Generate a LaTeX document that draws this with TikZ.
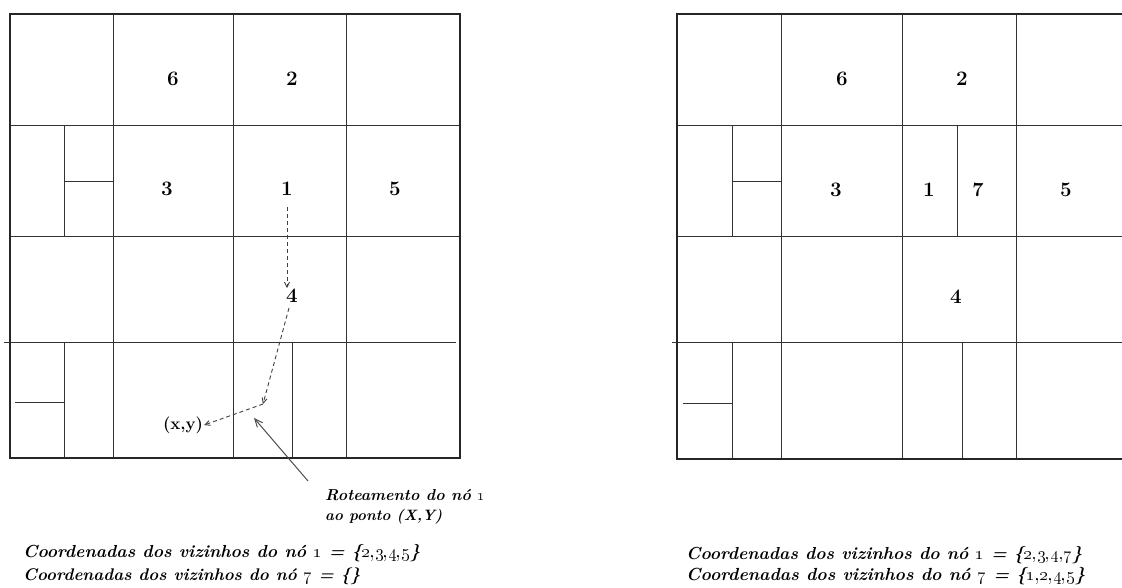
\documentclass[tikz,border=0pt]{standalone}
\usetikzlibrary{arrows.meta}
\newcommand{\nf}{\fontsize{12}{14}\selectfont\bfseries\itshape}
\newcommand{\dg}[1]{\resizebox{!}{13.5pt}{\fontsize{20}{22}\selectfont\bfseries #1}}
\tikzset{
  frame/.style={line width=2pt, draw=black!85},
  cell/.style={line width=1pt, draw=black!80},
  lbl/.style={inner sep=1pt},
  note/.style={anchor=west, inner sep=0pt},
  route/.style={dash pattern=on 4pt off 3pt, line width=0.9pt, draw=black!75, -{Straight Barb[length=5pt,width=5pt]}},
  pointer/.style={line width=1pt, draw=black!70, -{Straight Barb[length=8pt,width=7pt]}}
}
\begin{document}
\begin{tikzpicture}[x=1pt,y=-1pt]
\path[use as bounding box] (0,0) rectangle (1122,587);
\begin{scope}
\clip (0,0) rectangle (1122,587);
% ---------- left partition ----------
\draw[cell] (113,14) -- (113,458);
\draw[cell] (233,14) -- (233,458);
\draw[cell] (346,14) -- (346,458);
\draw[cell] (10,125) -- (460,125);
\draw[cell] (10,236) -- (460,236);
\draw[cell] (4,342) -- (456,342);
\draw[cell] (64,125) -- (64,236);
\draw[cell] (64,181) -- (113,181);
\draw[cell] (64,342) -- (64,458);
\draw[cell] (15,402) -- (64,402);
\draw[cell] (292,342) -- (292,458);
\draw[frame] (10,14) rectangle (460,458);
% ---------- right partition ----------
\draw[cell] (781,14) -- (781,459);
\draw[cell] (902,14) -- (902,459);
\draw[cell] (1016,14) -- (1016,459);
\draw[cell] (677,125) -- (1130,125);
\draw[cell] (677,236) -- (1130,236);
\draw[cell] (672,342) -- (1130,342);
\draw[cell] (732,125) -- (732,236);
\draw[cell] (732,181) -- (781,181);
\draw[cell] (957,125) -- (957,236);
\draw[cell] (732,342) -- (732,459);
\draw[cell] (683,403) -- (732,403);
\draw[cell] (962,342) -- (962,459);
\draw[frame] (677,14) rectangle (1140,459);
\end{scope}
% ---------- left labels ----------
\node[lbl] (L6) at (173,79) {\dg{6}};
\node[lbl] (L2) at (292,79) {\dg{2}};
\node[lbl] (L3) at (167,189) {\dg{3}};
\node[lbl] (L1) at (287,189) {\dg{1}};
\node[lbl] (L5) at (395,189) {\dg{5}};
\node[lbl] (L4) at (292,296) {\dg{4}};
\node[lbl] (LXY) at (183,425) {\resizebox{40pt}{!}{\fontsize{20}{22}\selectfont\bfseries (x,y)}};
\coordinate (turn) at (263,404);
\coordinate (rtail) at (308,481);
\coordinate (rhead) at (254,418);
\draw[route] (287,207) -- (L4.north west -| L1);
\draw[route] (289,308) -- (turn);
\draw[route] (turn) -- (LXY.east);
\draw[pointer] (rtail) -- (rhead);
\node[note] (rot1) at (325,495) {\resizebox{160pt}{!}{\nf Roteamento do nó \oldstylenums{1}}};
\node[note] (rot2) at (325,517) {\resizebox{117pt}{!}{\nf ao ponto (X,Y)}};
\node[note] (c1) at (23,553) {\resizebox{397pt}{!}{\nf Coordenadas dos vizinhos do nó \oldstylenums{1} = \{\oldstylenums{2,3,4,5}\}}};
\node[note] (c7) at (23,576) {\resizebox{337pt}{!}{\nf Coordenadas dos vizinhos do nó \oldstylenums{7} = \{\}}};
% ---------- right labels ----------
\node[lbl] (R6) at (842,79) {\dg{6}};
\node[lbl] (R2) at (962,79) {\dg{2}};
\node[lbl] (R3) at (836,190) {\dg{3}};
\node[lbl] (R1) at (929,190) {\dg{1}};
\node[lbl] (R7) at (978,190) {\dg{7}};
\node[lbl] (R5) at (1066,190) {\dg{5}};
\node[lbl] (R4) at (956,297) {\dg{4}};
\node[note] (d1) at (686,555) {\resizebox{396pt}{!}{\nf Coordenadas dos vizinhos do nó \oldstylenums{1} = \{\oldstylenums{2,3,4,7}\}}};
\node[note] (d7) at (686,576) {\resizebox{399pt}{!}{\nf Coordenadas dos vizinhos do nó \oldstylenums{7} = \{\oldstylenums{1,2,4,5}\}}};
\end{tikzpicture}
\end{document}
